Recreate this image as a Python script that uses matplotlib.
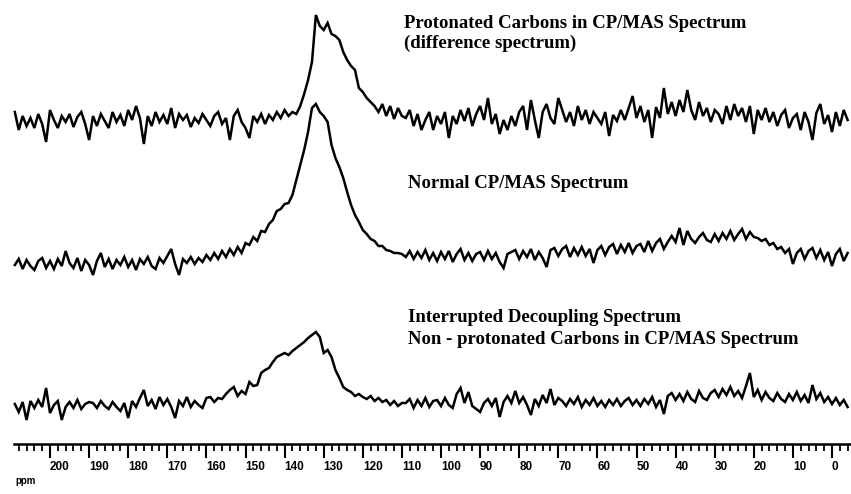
'''
Stacked 13C CP/MAS NMR spectra with a ppm scale
'''

# Imports
import numpy as np
import matplotlib
matplotlib.use('Agg')
from matplotlib import pyplot as plt
from matplotlib.ticker import FixedLocator

# Chemical shift of each point of the traces (1 ppm steps, high field on the right)
ppm = np.arange(209, -5, -1)

# Heights, each row is 10 ppm (209-200, 199-190, ... 9-0, then -1..-4)
protonated = [
    12, -6, 8, -2, 6, -4, 10, 0, -18, 14,
    4, -4, 8, 2, 10, -3, 7, 12, 0, -16,
    8, -2, 10, 3, -4, 12, 2, 9, -2, 14,
    4, 18, 6, -20, 8, -2, 12, 2, 9, 0,
    16, -4, 10, 4, 9, -3, 6, 1, 10, 4,
    -2, 8, 12, 0, 6, -16, 8, 14, 2, -4,
    -14, 8, 2, 10, 0, 9, 4, 12, 6, 14,
    8, 12, 10, 18, 30, 44, 62, 109, 98, 94,
    101, 90, 88, 84, 72, 64, 58, 54, 36, 32,
    26, 22, 18, 12, 20, 8, 18, 5, 16, 8,
    6, 14, -2, 10, -6, 4, 12, -6, 8, 0,
    12, -14, 8, 0, 14, 3, 16, -2, 10, 18,
    4, 26, 0, 10, -10, 4, -6, 8, -2, 12,
    18, -6, 24, 4, -14, 12, 20, 6, 0, 26,
    14, 2, 12, -2, 18, 4, 14, 0, 12, 6,
    0, 12, -12, 9, 3, 14, 4, 16, 28, 6,
    18, 2, 14, -14, 17, 6, 36, 10, 22, 8,
    24, 12, 34, 14, 4, 22, 8, 16, 2, 14,
    10, 0, 18, 4, 20, 8, 16, 2, 18, -10,
    14, 4, 16, 2, 12, -2, 9, 14, -4, 6,
    10, -6, 12, 2, -16, 11, 20, 0, 9, -8,
    12, -2, 14, 4,
]

normal = [
    0, 6, -4, 5, -1, -5, 4, 7, -3, 4,
    -4, 6, -1, 14, 2, -3, 7, -6, 5, 0,
    -10, 4, 12, -2, 6, -4, 5, 0, 8, -2,
    5, -5, 6, 1, 8, -1, -4, 7, 2, 9,
    16, 1, -10, 6, 2, 8, 1, 7, 3, 10,
    5, 12, 6, 14, 8, 16, 10, 18, 12, 22,
    20, 28, 24, 34, 33, 41, 45, 54, 56, 61,
    62, 70, 85, 100, 115, 133, 157, 161, 153, 149,
    143, 120, 107, 98, 87, 73, 60, 50, 43, 35,
    31, 26, 24, 19, 19, 15, 14, 12, 12, 11,
    8, 14, 6, 13, 7, 15, 5, 12, 4, 13,
    6, 14, 3, 11, 16, 5, 12, 4, 11, 13,
    5, 14, 6, 12, 3, -3, 11, 13, 15, 6,
    14, 8, 16, 5, 13, 7, -2, 15, 17, 9,
    16, 19, 8, 17, 10, 18, 9, 16, 2, 15,
    19, 10, 18, 21, 11, 20, 13, 22, 12, 19,
    21, 13, 24, 14, 22, 26, 16, 23, 29, 23,
    37, 20, 34, 26, 22, 28, 32, 25, 23, 31,
    24, 32, 26, 34, 25, 31, 36, 26, 33, 28,
    27, 24, 26, 20, 22, 16, 18, 12, 16, 1,
    12, 16, 6, 14, 17, 7, 15, 5, 13, -1,
    11, 16, 4, 12,
]

interrupted = [
    4, -4, 6, -12, 7, 0, 8, 1, 20, -5,
    3, 7, -12, 1, 6, 0, 8, -1, 4, 6,
    5, 0, 7, 2, -1, 6, 1, -3, 5, -10,
    7, 1, 10, 18, 2, 8, -1, 11, 3, 9,
    1, -10, 7, 2, 11, 1, 7, 3, 0, 10,
    11, 6, 10, 9, 14, 18, 21, 12, 17, 14,
    26, 22, 23, 35, 38, 40, 46, 51, 53, 55,
    53, 57, 60, 63, 66, 70, 73, 76, 71, 55,
    58, 51, 38, 30, 21, 18, 16, 12, 14, 11,
    9, 12, 7, 10, 6, 8, 3, 7, 2, 5,
    5, 9, 0, 8, 2, 10, 1, 7, 8, 2,
    10, 3, 0, 14, 20, 5, 16, 2, -1, -4,
    5, 9, 2, 10, -9, 6, 12, 5, 17, 5,
    11, 3, -7, 9, 2, 13, 5, 19, 3, 10,
    7, 2, 9, 4, 11, 1, 8, 3, 10, 2,
    7, 1, 8, 3, 9, 2, 7, 10, 3, 8,
    2, 9, 4, 11, 1, 8, -6, 12, 15, 8,
    14, 7, 16, 9, 6, 17, 10, 8, 15, 18,
    11, 19, 13, 21, 12, 17, 10, 22, 35, 11,
    18, 8, 16, 10, 7, 15, 9, 6, 14, 8,
    16, 7, 13, 5, 23, 9, 15, 6, 11, 4,
    10, 3, 8, 1,
]

# Scale labels
majorTicks = list(range(200, -1, -10))
majorLabels = [str(t) for t in majorTicks]
minorTicks = list(range(208, -5, -2))

# Caption lines of the three traces
topCaption = ['Protonated Carbons in CP/MAS Spectrum', '(difference spectrum)']
midCaption = ['Normal CP/MAS Spectrum']
lowCaption = ['Interrupted Decoupling Spectrum',
              'Non - protonated Carbons in CP/MAS Spectrum']


def main():
    W, H = 851, 494
    fig = plt.figure(figsize=(W / 100, H / 100), dpi=100)
    ax = fig.add_axes([0, 0, 1, 1])

    # x in ppm, y in image rows so the stacking offsets are easy to place
    ax.set_xlim(212.79, -4.86)
    ax.set_ylim(H, 0)

    # Traces, each one hung from its own baseline
    traces = [(protonated, 124), (normal, 265), (interrupted, 408)]
    for heights, base in traces:
        assert len(heights) == len(ppm)
        ax.plot(ppm, base - np.array(heights), color='black', lw=1.8,
                solid_joinstyle='miter')

    # Only the bottom spine is kept, used as the ppm scale
    for side in ['top', 'left', 'right']:
        ax.spines[side].set_visible(False)
    ax.spines['bottom'].set_position(('data', 444))
    ax.spines['bottom'].set_bounds(209.2, -4.6)
    ax.spines['bottom'].set_linewidth(1.8)
    ax.set_yticks([])

    ax.set_xticks(majorTicks)
    ax.set_xticklabels(majorLabels, family='Liberation Sans', weight='bold', fontsize=8.5)
    ax.xaxis.set_minor_locator(FixedLocator(minorTicks))
    ax.tick_params(axis='x', which='major', direction='out', length=10, width=1.5, pad=2.5)
    ax.tick_params(axis='x', which='minor', direction='out', length=5, width=1.3)
    for lbl in ax.get_xticklabels():
        lbl.set_horizontalalignment('left')

    fig.text(15 / W, 1 - 481 / H, 'ppm', family='Liberation Sans', weight='bold',
             fontsize=7, va='center', ha='left')

    # Captions, one text per line
    capFont = dict(family='Liberation Serif', weight='bold', fontsize=13.5,
                   ha='left', va='center')
    captions = [(404, 24, topCaption[0]), (404, 43, topCaption[1]),
                (408, 183, midCaption[0]),
                (408, 317, lowCaption[0]), (408, 340, lowCaption[1])]
    for x, y, line in captions:
        fig.text(x / W, 1 - y / H, line, **capFont)

    fig.savefig('out.png', dpi=100, facecolor='white')


if __name__ == '__main__':
    main()
